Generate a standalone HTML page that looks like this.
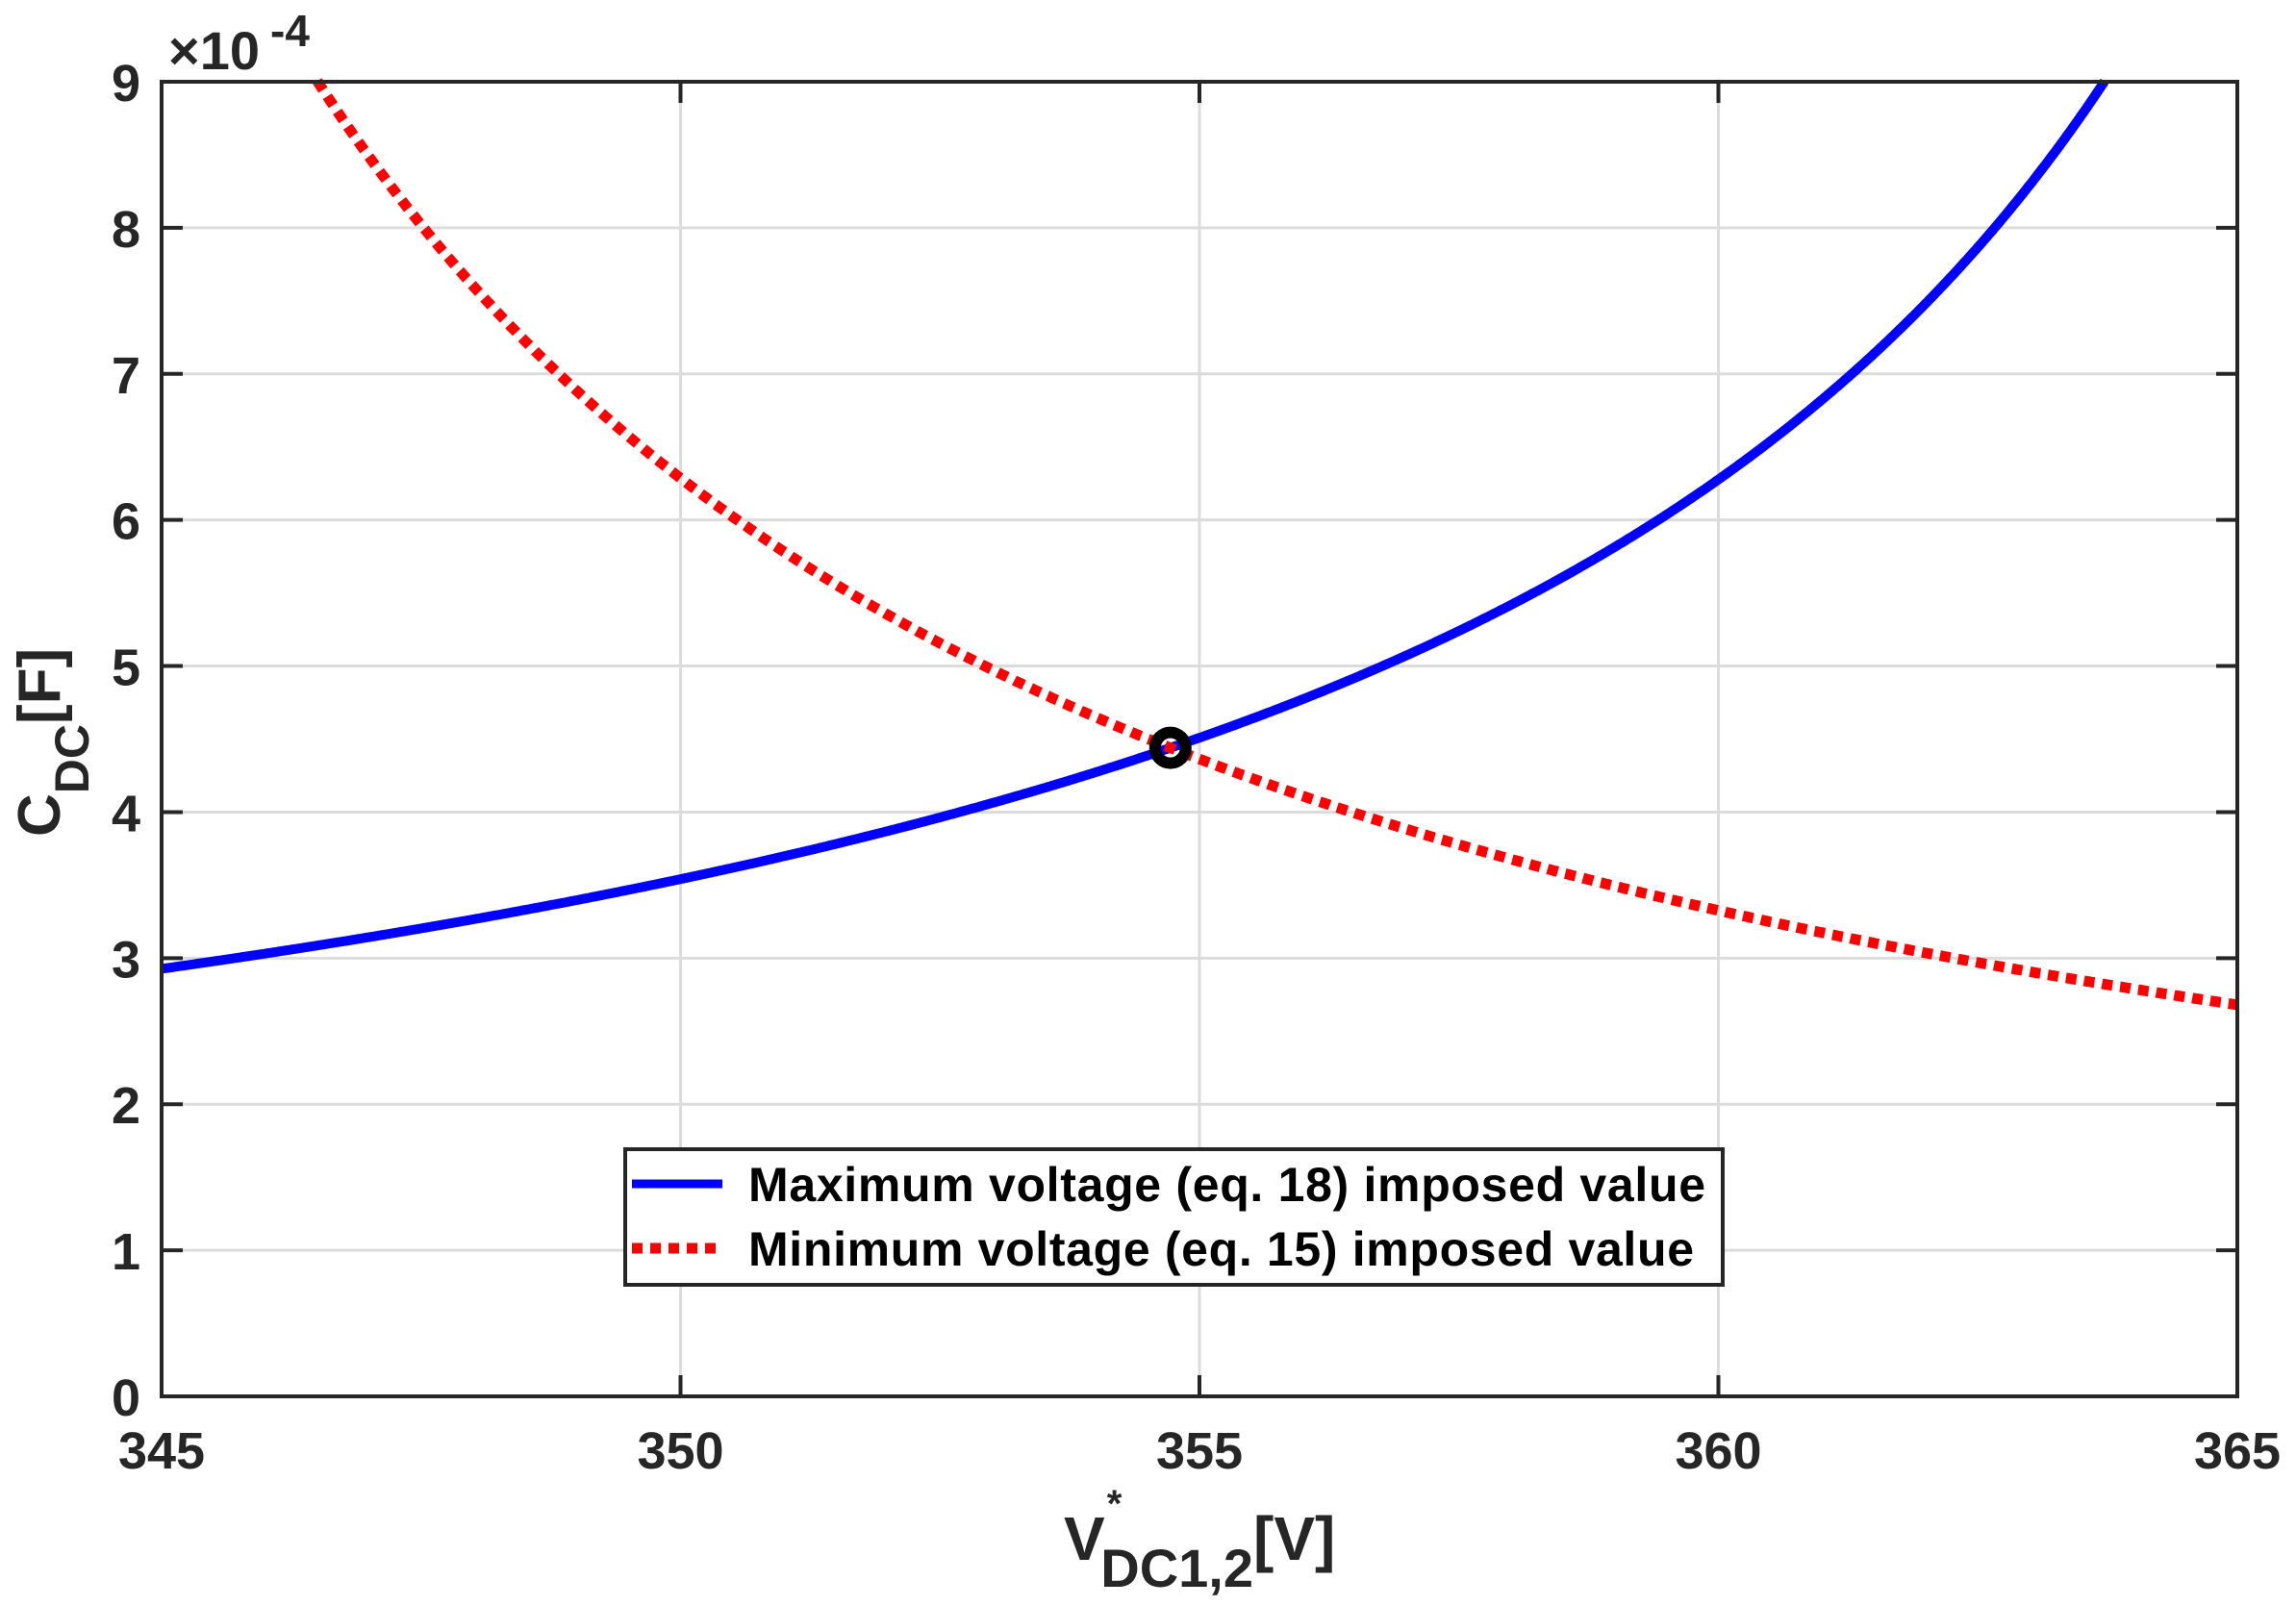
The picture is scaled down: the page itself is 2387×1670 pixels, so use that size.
<!DOCTYPE html>
<html><head><meta charset="utf-8"><style>
html,body{margin:0;padding:0;background:#fff;}
svg{display:block;}
text{font-family:"Liberation Sans",Arial,sans-serif;font-weight:bold;fill:#262626;}
</style></head><body>
<svg id="s" width="2387" height="1670" xmlns="http://www.w3.org/2000/svg">
<rect width="2387" height="1670" fill="#fff"/>
<g id="grid" stroke="#dcdcdc" stroke-width="3"></g>
<g id="curves" fill="none"></g>
<g id="axes" stroke="#262626" stroke-width="4" fill="none"></g>
<g id="labels" font-size="54"></g>
<text x="175" y="72" font-size="56">×10</text>
<text x="281" y="48" font-size="46">-4</text>
<text transform="translate(62,870) rotate(-90)" font-size="62">C<tspan font-size="50" dy="30">DC</tspan><tspan dy="-30">[F]</tspan></text>
<text x="1106" y="1622" font-size="64">V<tspan font-size="40" dx="2" dy="-45">*</tspan><tspan font-size="56" dx="-22" dy="73">DC1,2</tspan><tspan dy="-28">[V]</tspan></text>
<rect x="650" y="1195" width="1141" height="141" fill="#fff" stroke="#262626" stroke-width="4"/>
<line x1="657" y1="1231" x2="751" y2="1231" stroke="#0000ff" stroke-width="9"/>
<line x1="657" y1="1298" x2="745" y2="1298" stroke="#ff0000" stroke-width="11" stroke-dasharray="11,8"/>
<text x="778" y="1249" font-size="50" textLength="995" style="fill:#000">Maximum voltage (eq. 18) imposed value</text>
<text x="778" y="1316" font-size="50" textLength="983" style="fill:#000">Minimum voltage (eq. 15) imposed value</text>
</svg>
<script>
var L=168,R=2326,T=85,B=1452;
function X(v){return L+(v-345)*(R-L)/20;}
function Y(c){return B-c*(B-T)/9;}
var ns="http://www.w3.org/2000/svg";
function el(p,t,a){var e=document.createElementNS(ns,t);for(var k in a)e.setAttribute(k,a[k]);document.getElementById(p).appendChild(e);return e;}
for(var v=350;v<365;v+=5)el("grid","line",{x1:X(v),y1:T,x2:X(v),y2:B});
for(var c=1;c<9;c++)el("grid","line",{x1:L,y1:Y(c),x2:R,y2:Y(c)});
function blueF(v){return 4.44*Math.pow(16.58/(371.3-v),0.903);}
function redF(v){return 4.44*Math.pow(16.92/(v-337.8),1.063);}
var d="";
for(var v=345;v<=363.8;v+=0.02){var c=blueF(v);if(c>9.02)break;d+=(d?"L":"M")+X(v).toFixed(1)+","+Y(c).toFixed(1);}
el("curves","path",{d:d,stroke:"#0000ff","stroke-width":10});
d="";
for(var v=346.4;v<=365.001;v+=0.02){var c=redF(v);if(c>9.02)continue;d+=(d?"L":"M")+X(v).toFixed(1)+","+Y(c).toFixed(1);}
el("curves","path",{d:d,stroke:"#ff0000","stroke-width":11,"stroke-dasharray":"11,8"});
el("curves","circle",{cx:X(354.72),cy:Y(4.44),r:16,stroke:"#000","stroke-width":12});
el("axes","rect",{x:L,y:T,width:R-L,height:B-T});
for(var v=345;v<=365;v+=5){el("axes","line",{x1:X(v),y1:B,x2:X(v),y2:B-22});el("axes","line",{x1:X(v),y1:T,x2:X(v),y2:T+22});
 var t=el("labels","text",{x:X(v),y:1527,"text-anchor":"middle"});t.textContent=v;}
for(var c=0;c<=9;c++){el("axes","line",{x1:L,y1:Y(c),x2:L+22,y2:Y(c)});el("axes","line",{x1:R,y1:Y(c),x2:R-22,y2:Y(c)});
 var t=el("labels","text",{x:146,y:Y(c)+20,"text-anchor":"end"});t.textContent=c;}
</script>
</body></html>
